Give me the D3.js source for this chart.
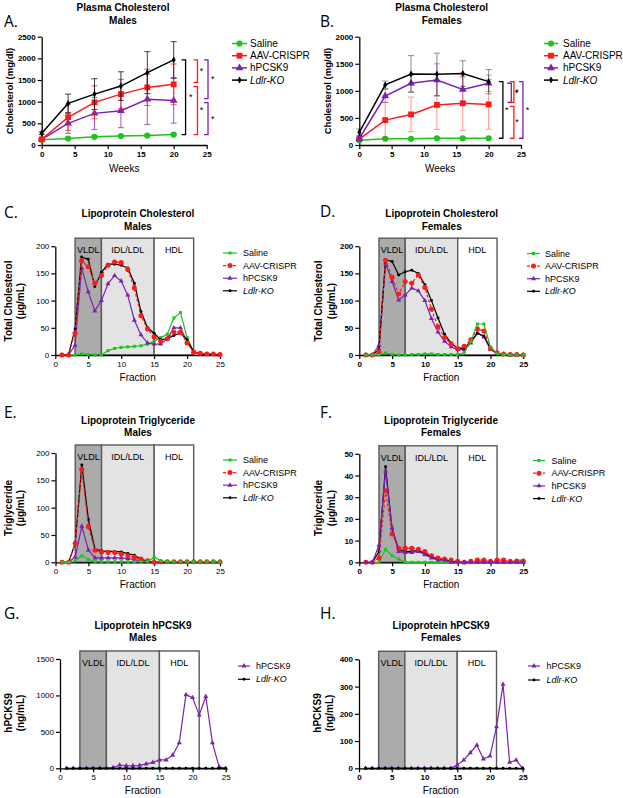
<!DOCTYPE html>
<html><head><meta charset="utf-8">
<script src="https://cdn.jsdelivr.net/npm/d3@7"></script>
<style>
body{margin:0;background:#fff}
svg{display:block}
text{font-family:"Liberation Sans",Arial,sans-serif;fill:#000}
</style>
</head><body>
<svg id="c" width="623" height="798"></svg>
<script>
// ---------- DATA ----------
const seriesNames = ["Saline","AAV-CRISPR","hPCSK9","Ldlr-KO"];
const weeks = [0,4,8,12,16,20];
const weekTicks = [0,5,10,15,20,25];
const fractions = [1,2,3,4,5,6,7,8,9,10,11,12,13,14,15,16,17,18,19,20,21,22,23,24,25];
const fractionTicks = [0,5,10,15,20,25];

// Plasma cholesterol (mg/dl), males
const plasmaMaleSaline = [120,150,190,205,220,240];
const plasmaMaleSalineErr = [15,20,25,25,25,25];
const plasmaMaleAAV = [130,640,985,1175,1330,1400];
const plasmaMaleAAVErr = [20,300,380,340,420,470];
const plasmaMaleHPCSK9 = [130,500,730,790,1055,1025];
const plasmaMaleHPCSK9Err = [20,230,370,390,580,520];
const plasmaMaleLdlr = [270,960,1175,1360,1670,1965];
const plasmaMaleLdlrErr = [30,215,355,330,485,420];
// Plasma cholesterol (mg/dl), females
const plasmaFemaleSaline = [90,115,115,125,125,125];
const plasmaFemaleSalineErr = [10,15,15,15,15,15];
const plasmaFemaleAAV = [110,460,565,740,770,750];
const plasmaFemaleAAVErr = [20,330,320,450,500,460];
const plasmaFemaleHPCSK9 = [120,905,1140,1200,1025,1140];
const plasmaFemaleHPCSK9Err = [20,120,150,300,230,150];
const plasmaFemaleLdlr = [235,1110,1310,1305,1320,1170];
const plasmaFemaleLdlrErr = [60,70,340,390,235,225];

// Lipoprotein cholesterol (µg/mL)
const cholMaleSaline = [0,0,0,2,1,0,0,8,12,14,15,16,17,20,25,32,38,68,78,32,6,3,2,1,1];
const cholMaleAAV = [0,0,40,173,162,132,146,165,171,170,157,123,72,48,33,25,30,42,42,22,5,3,2,2,1];
const cholMaleHPCSK9 = [0,0,18,160,116,81,100,131,146,136,110,64,37,22,20,20,30,50,50,25,5,2,1,1,0];
const cholMaleLdlr = [0,0,48,180,176,126,152,167,167,165,160,132,80,50,40,28,30,36,40,28,6,2,1,1,0];
const cholFemaleSaline = [0,0,0,4,1,0,0,1,1,2,2,1,1,1,1,5,25,57,57,15,3,1,0,0,0];
const cholFemaleAAV = [0,0,5,174,143,112,135,132,147,124,84,52,32,20,12,16,28,48,44,12,4,2,1,1,0];
const cholFemaleHPCSK9 = [0,0,18,169,135,101,110,123,118,100,67,42,25,15,10,10,22,40,33,10,3,1,0,0,0];
const cholFemaleLdlr = [0,0,10,175,172,147,153,156,150,129,100,68,38,22,12,12,25,40,35,12,3,1,0,0,0];

// Lipoprotein triglyceride (µg/mL)
const trigMaleSaline = [0,0,3,12,5,1,1,1,1,1,1,1,1,2,9,3,1,1,1,1,1,1,1,1,1];
const trigMaleAAV = [0,0,35,170,65,22,19,18,18,15,12,9,6,3,0,1,1,1,1,1,1,1,1,1,1];
const trigMaleHPCSK9 = [0,0,10,66,22,8,8,8,8,8,7,5,3,1,0,0,0,0,0,0,0,0,0,0,0];
const trigMaleLdlr = [0,0,35,178,78,24,21,20,20,19,16,13,6,2,0,0,0,0,0,0,0,0,0,0,0];
const trigFemaleSaline = [0,0,0,6,3,1.5,0,0,0,0,0,0,0,0,0,0,0,0,0,0,0,0,0,1,1];
const trigFemaleAAV = [0,0,2,33,13,6.5,6.5,6.5,6,5,3,2,1.5,1,0.5,0,0.5,1,1,0.5,1,1,0.5,0.5,0.5];
const trigFemaleHPCSK9 = [0,0,8,42,16,5,4.5,4.5,5,3.5,2,1,1,0,0,0,0,0,0,0,0,0,0,0,0];
const trigFemaleLdlr = [0,0,5,44,15,6,5,5,5.5,4,2.5,1.5,1,0.5,0,0,0,0,0,0,0,0,0,0,0];

// Lipoprotein hPCSK9 (ng/mL)
const pcsk9MaleHPCSK9 = [0,0,0,0,0,0,5,10,45,35,35,40,60,80,115,115,180,350,1010,970,730,985,350,20,0];
const pcsk9MaleLdlr = [0,0,0,0,0,0,0,0,0,0,0,0,0,0,0,0,0,0,0,0,0,0,0,0,0];
const pcsk9FemaleHPCSK9 = [0,0,0,0,0,0,0,0,0,0,0,0,0,0,12,30,57,85,34,45,152,308,22,30,0];
const pcsk9FemaleLdlr = [0,0,0,0,0,0,0,0,0,0,0,0,0,0,0,0,0,0,0,0,0,0,0,0,0];

// Fraction regions
const regionLabels = ["VLDL","IDL/LDL","HDL"];
const regionStart = [3,7,15];
const regionEnd = [7,15,21];

// ---------- STYLE ----------
const GREEN="#1ec31e", RED="#ff1a1a", PURPLE="#7b22b0", BLACK="#000";
const regionFill = ["#ababab","#e3e3e3","#ffffff"];
const styleA = {
  "Saline":{c:GREEN,sym:d3.symbolCircle,size:30,dash:null},
  "AAV-CRISPR":{c:RED,sym:d3.symbolSquare,size:34,dash:null},
  "hPCSK9":{c:PURPLE,sym:d3.symbolTriangle,size:26,dash:null},
  "Ldlr-KO":{c:BLACK,sym:d3.symbolDiamond,size:14,dash:null}
};
const styleL = {
  "Saline":{c:GREEN,sym:d3.symbolSquare,size:9,dash:null},
  "AAV-CRISPR":{c:RED,sym:d3.symbolCircle,size:20,dash:"3,2"},
  "hPCSK9":{c:PURPLE,sym:d3.symbolTriangle,size:11,dash:null},
  "Ldlr-KO":{c:BLACK,sym:d3.symbolCircle,size:7,dash:null}
};
const FONT = "'Liberation Sans',Arial,sans-serif";

const svg = d3.select("#c");

function drawPanel(p){
  const g = svg.append("g");
  const x = d3.scaleLinear().domain([0,25]).range(p.xr);
  const y = d3.scaleLinear().domain(p.ydom).range(p.yr);

  // letter + title
  g.append("text").attr("x",p.letter[1]).attr("y",p.letter[2]).attr("font-size",15.5)
    .style("font-family","'Open Sans',sans-serif").text(p.letter[0]);
  p.title.forEach((t,i)=>g.append("text").attr("x",p.titleX).attr("y",p.titleY[i])
    .attr("text-anchor","middle").attr("dominant-baseline","central")
    .attr("font-size",10).attr("font-weight","bold").text(t));

  // regions
  if(p.regions){
    const top = y.range()[1]-8;
    regionLabels.forEach((lab,i)=>{
      g.append("rect").attr("x",x(regionStart[i])).attr("y",top)
        .attr("width",x(regionEnd[i])-x(regionStart[i])).attr("height",y(0)-top)
        .attr("fill",regionFill[i]).attr("stroke","#5a5a5a").attr("stroke-width",1.4);
      g.append("text").attr("x",(x(regionStart[i])+x(regionEnd[i]))/2).attr("y",top+12)
        .attr("text-anchor","middle").attr("dominant-baseline","central")
        .attr("font-size",9).attr("fill","#222").text(lab);
    });
  }

  // axes
  const fw = p.bold ? "bold":"normal";
  const fmt = d3.format("d");
  const xa = g.append("g").attr("transform",`translate(0,${y(0)})`)
    .call(d3.axisBottom(x).tickValues(p.xticks).tickFormat(fmt).tickSize(4).tickSizeOuter(0).tickPadding(2));
  const ya = g.append("g").attr("transform",`translate(${x(0)},0)`)
    .call(d3.axisLeft(y).tickValues(p.yticks).tickFormat(fmt).tickSize(4).tickSizeOuter(0).tickPadding(2));
  [xa,ya].forEach(a=>{
    a.attr("font-family",FONT);
    a.select(".domain").attr("stroke","#000").attr("stroke-width",1.3);
    a.selectAll(".tick line").attr("stroke","#000").attr("stroke-width",1.2);
    a.selectAll(".tick text").attr("font-size",8).attr("font-weight",fw)
      .style("font-family",FONT).attr("fill","#111");
  });

  // axis titles
  g.append("text").attr("x",(x(0)+x(25))/2).attr("y",p.xtitleY).attr("text-anchor","middle")
    .attr("dominant-baseline","central").attr("font-size",10).text(p.xtitle);
  p.ytitle.forEach((t,i)=>g.append("text")
    .attr("transform",`translate(${p.ytitleX[i]},${p.ytitleY}) rotate(-90)`)
    .attr("text-anchor","middle").attr("dominant-baseline","central")
    .attr("font-size",p.ytitleSize).attr("font-weight","bold").text(t));

  // series
  const st = p.style;
  p.series.forEach(s=>{
    const sty = st[s.name];
    const pts = s.data.map((v,i)=>({x:p.xs[i],y:v,e:s.err?s.err[i]:0}));
    if(s.err){
      const eg = g.append("g").attr("stroke",sty.c).attr("stroke-width",1).attr("opacity",p.errOpacity);
      pts.forEach(d=>{
        eg.append("line").attr("x1",x(d.x)).attr("x2",x(d.x)).attr("y1",y(d.y-d.e)).attr("y2",y(d.y+d.e));
        [d.y-d.e,d.y+d.e].forEach(v=>eg.append("line").attr("x1",x(d.x)-3).attr("x2",x(d.x)+3)
          .attr("y1",y(v)).attr("y2",y(v)));
      });
    }
    g.append("path").datum(pts).attr("fill","none").attr("stroke",sty.c)
      .attr("stroke-width",p.lw).attr("stroke-dasharray",sty.dash)
      .attr("d",d3.line().x(d=>x(d.x)).y(d=>y(d.y)));
    g.selectAll(null).data(pts).enter().append("path")
      .attr("transform",d=>`translate(${x(d.x)},${y(d.y)})`)
      .attr("d",d3.symbol().type(sty.sym).size(sty.size)).attr("fill",sty.c);
  });

  // brackets
  if(p.brackets){
    p.brackets.forEach(b=>{
      const y1 = y(b.top)+(b.gapTop||0), y2 = y(b.bot)-(b.gapBot||0), xv = x(b.at);
      g.append("path").attr("d",`M${xv-4},${y1}H${xv}V${y2}H${xv-4}`)
        .attr("fill","none").attr("stroke",b.c).attr("stroke-width",1.3);
      g.append("text").attr("x",x(b.star)).attr("y",(y1+y2)/2+3).attr("text-anchor","middle")
        .attr("font-size",9).attr("fill",b.c).text("*");
    });
  }

  // legend
  const L = p.legend;
  L.items.forEach((name,i)=>{
    const sty = st[name];
    const yy = L.y + i*L.dy;
    g.append("line").attr("x1",L.x).attr("x2",L.x+L.w).attr("y1",yy).attr("y2",yy)
      .attr("stroke",sty.c).attr("stroke-width",p.lw).attr("stroke-dasharray",sty.dash);
    g.append("path").attr("transform",`translate(${L.x+L.w/2},${yy})`)
      .attr("d",d3.symbol().type(sty.sym).size(sty.size)).attr("fill",sty.c);
    g.append("text").attr("x",L.tx).attr("y",yy).attr("dominant-baseline","central")
      .attr("font-size",L.fs).attr("font-style",name==="Ldlr-KO"?"italic":"normal").text(name);
  });
}

function S(name,data,err){return {name,data,err};}

// A
drawPanel({
  letter:["A.",4,27], title:["Plasma Cholesterol","Males"], titleX:123, titleY:[7.5,20],
  xr:[41.7,206.7], yr:[145,36.7], ydom:[0,2500], xticks:weekTicks, yticks:[0,500,1000,1500,2000,2500],
  bold:true, xs:weeks, xtitle:"Weeks", xtitleY:168, ytitle:["Cholesterol (mg/dl)"], ytitleX:[9], ytitleY:91, ytitleSize:9.5,
  style:styleA, lw:1.5, errOpacity:0.75,
  series:[S("Saline",plasmaMaleSaline,plasmaMaleSalineErr),S("hPCSK9",plasmaMaleHPCSK9,plasmaMaleHPCSK9Err),
          S("AAV-CRISPR",plasmaMaleAAV,plasmaMaleAAVErr),S("Ldlr-KO",plasmaMaleLdlr,plasmaMaleLdlrErr)],
  brackets:[
    {c:BLACK,top:plasmaMaleLdlr[5],bot:plasmaMaleSaline[5],at:21.8,star:22.6},
    {c:RED,top:plasmaMaleLdlr[5],bot:plasmaMaleAAV[5],gapBot:2,at:23.6,star:24.2},
    {c:RED,top:plasmaMaleAAV[5],bot:plasmaMaleSaline[5],gapTop:2,at:23.6,star:24.2},
    {c:PURPLE,top:plasmaMaleLdlr[5],bot:plasmaMaleHPCSK9[5],gapBot:2,at:25.2,star:25.9},
    {c:PURPLE,top:plasmaMaleHPCSK9[5],bot:plasmaMaleSaline[5],gapTop:2,at:25.2,star:25.9}
  ],
  legend:{x:232,w:15,tx:250,y:43.5,dy:12.2,fs:10,items:seriesNames}
});
// B
drawPanel({
  letter:["B.",320,27], title:["Plasma Cholesterol","Females"], titleX:441.7, titleY:[7.5,20],
  xr:[359.3,521], yr:[145,36.7], ydom:[0,2000], xticks:weekTicks, yticks:[0,500,1000,1500,2000],
  bold:true, xs:weeks, xtitle:"Weeks", xtitleY:168, ytitle:["Cholesterol (mg/dl)"], ytitleX:[327], ytitleY:91, ytitleSize:9.5,
  style:styleA, lw:1.5, errOpacity:0.45,
  series:[S("Saline",plasmaFemaleSaline,plasmaFemaleSalineErr),S("AAV-CRISPR",plasmaFemaleAAV,plasmaFemaleAAVErr),
          S("hPCSK9",plasmaFemaleHPCSK9,plasmaFemaleHPCSK9Err),S("Ldlr-KO",plasmaFemaleLdlr,plasmaFemaleLdlrErr)],
  brackets:[
    {c:BLACK,top:plasmaFemaleLdlr[5],bot:plasmaFemaleSaline[5],at:22.2,star:22.8},
    {c:PURPLE,top:plasmaFemaleHPCSK9[5],bot:plasmaFemaleAAV[5],gapBot:2,at:23.5,star:24.3},
    {c:RED,top:plasmaFemaleLdlr[5],bot:plasmaFemaleAAV[5],gapBot:2,at:23.9,star:24.4},
    {c:RED,top:plasmaFemaleAAV[5],bot:plasmaFemaleSaline[5],gapTop:2,at:23.9,star:24.4},
    {c:PURPLE,top:plasmaFemaleLdlr[5],bot:plasmaFemaleSaline[5],at:25.3,star:26.0}
  ],
  legend:{x:544,w:14,tx:563,y:43.5,dy:12.2,fs:10,items:seriesNames}
});
// C
drawPanel({
  letter:["C.",4,218], title:["Lipoprotein Cholesterol","Males"], titleX:138, titleY:[213,226],
  xr:[55.3,220], yr:[355,246.2], ydom:[0,200], xticks:fractionTicks, yticks:[0,50,100,150,200],
  bold:false, xs:fractions, xtitle:"Fraction", xtitleY:377, ytitle:["Total Cholesterol","(µg/mL)"], ytitleX:[8.5,20.5], ytitleY:301, ytitleSize:10,
  style:styleL, lw:1.2, regions:true,
  series:[S("Saline",cholMaleSaline),S("hPCSK9",cholMaleHPCSK9),S("Ldlr-KO",cholMaleLdlr),S("AAV-CRISPR",cholMaleAAV)],
  legend:{x:223,w:14,tx:243,y:253,dy:12.6,fs:9,items:seriesNames}
});
// D
drawPanel({
  letter:["D.",320,217], title:["Lipoprotein Cholesterol","Females"], titleX:441.7, titleY:[213,226],
  xr:[359.3,523.3], yr:[355,246.2], ydom:[0,200], xticks:fractionTicks, yticks:[0,50,100,150,200],
  bold:true, xs:fractions, xtitle:"Fraction", xtitleY:377, ytitle:["Total Cholesterol","(µg/mL)"], ytitleX:[318.5,331], ytitleY:301, ytitleSize:10,
  style:styleL, lw:1.2, regions:true,
  series:[S("hPCSK9",cholFemaleHPCSK9),S("Ldlr-KO",cholFemaleLdlr),S("AAV-CRISPR",cholFemaleAAV),S("Saline",cholFemaleSaline)],
  legend:{x:527,w:13,tx:545,y:253.5,dy:12.6,fs:9,items:seriesNames}
});
// E
drawPanel({
  letter:["E.",4,418], title:["Lipoprotein Triglyceride","Males"], titleX:138, titleY:[420,432.5],
  xr:[55.5,220], yr:[562.3,453], ydom:[0,200], xticks:fractionTicks, yticks:[0,50,100,150,200],
  bold:false, xs:fractions, xtitle:"Fraction", xtitleY:584, ytitle:["Triglyceride","(µg/mL)"], ytitleX:[8.5,20.5], ytitleY:508, ytitleSize:10,
  style:styleL, lw:1.2, regions:true,
  series:[S("hPCSK9",trigMaleHPCSK9),S("Ldlr-KO",trigMaleLdlr),S("AAV-CRISPR",trigMaleAAV),S("Saline",trigMaleSaline)],
  legend:{x:223,w:14,tx:243,y:460,dy:12.6,fs:9,items:seriesNames}
});
// F
drawPanel({
  letter:["F.",320,418], title:["Lipoprotein Triglyceride","Females"], titleX:441, titleY:[420,432.5],
  xr:[359.3,523.3], yr:[562.3,453.8], ydom:[0,50], xticks:fractionTicks, yticks:[0,10,20,30,40,50],
  bold:true, xs:fractions, xtitle:"Fraction", xtitleY:584, ytitle:["Triglyceride","(µg/mL)"], ytitleX:[318.5,331], ytitleY:508, ytitleSize:10,
  style:styleL, lw:1.2, regions:true,
  series:[S("Saline",trigFemaleSaline),S("Ldlr-KO",trigFemaleLdlr),S("AAV-CRISPR",trigFemaleAAV),S("hPCSK9",trigFemaleHPCSK9)],
  legend:{x:533,w:12,tx:551.5,y:460.5,dy:12.7,fs:9,items:seriesNames}
});
// G
drawPanel({
  letter:["G.",4,619], title:["Lipoprotein hPCSK9","Males"], titleX:143, titleY:[625,637.7],
  xr:[60,225.7], yr:[768.3,659], ydom:[0,1500], xticks:fractionTicks, yticks:[0,500,1000,1500],
  bold:false, xs:fractions, xtitle:"Fraction", xtitleY:790, ytitle:["hPCKS9","(ng/mL)"], ytitleX:[8.5,20.5], ytitleY:713, ytitleSize:10,
  style:styleL, lw:1.2, regions:true,
  series:[S("hPCSK9",pcsk9MaleHPCSK9),S("Ldlr-KO",pcsk9MaleLdlr)],
  legend:{x:238,w:12,tx:256,y:666,dy:13.3,fs:9,items:["hPCSK9","Ldlr-KO"]}
});
// H
drawPanel({
  letter:["H.",320,619], title:["Lipoprotein hPCSK9","Females"], titleX:441, titleY:[625,637.7],
  xr:[359,522.7], yr:[768.3,659.3], ydom:[0,400], xticks:fractionTicks, yticks:[0,100,200,300,400],
  bold:true, xs:fractions, xtitle:"Fraction", xtitleY:790, ytitle:["hPCKS9","(ng/mL)"], ytitleX:[317.5,329], ytitleY:713, ytitleSize:10,
  style:styleL, lw:1.2, regions:true,
  series:[S("hPCSK9",pcsk9FemaleHPCSK9),S("Ldlr-KO",pcsk9FemaleLdlr)],
  legend:{x:528,w:12,tx:546.5,y:666,dy:14,fs:9,items:["hPCSK9","Ldlr-KO"]}
});
</script>
</body></html>
